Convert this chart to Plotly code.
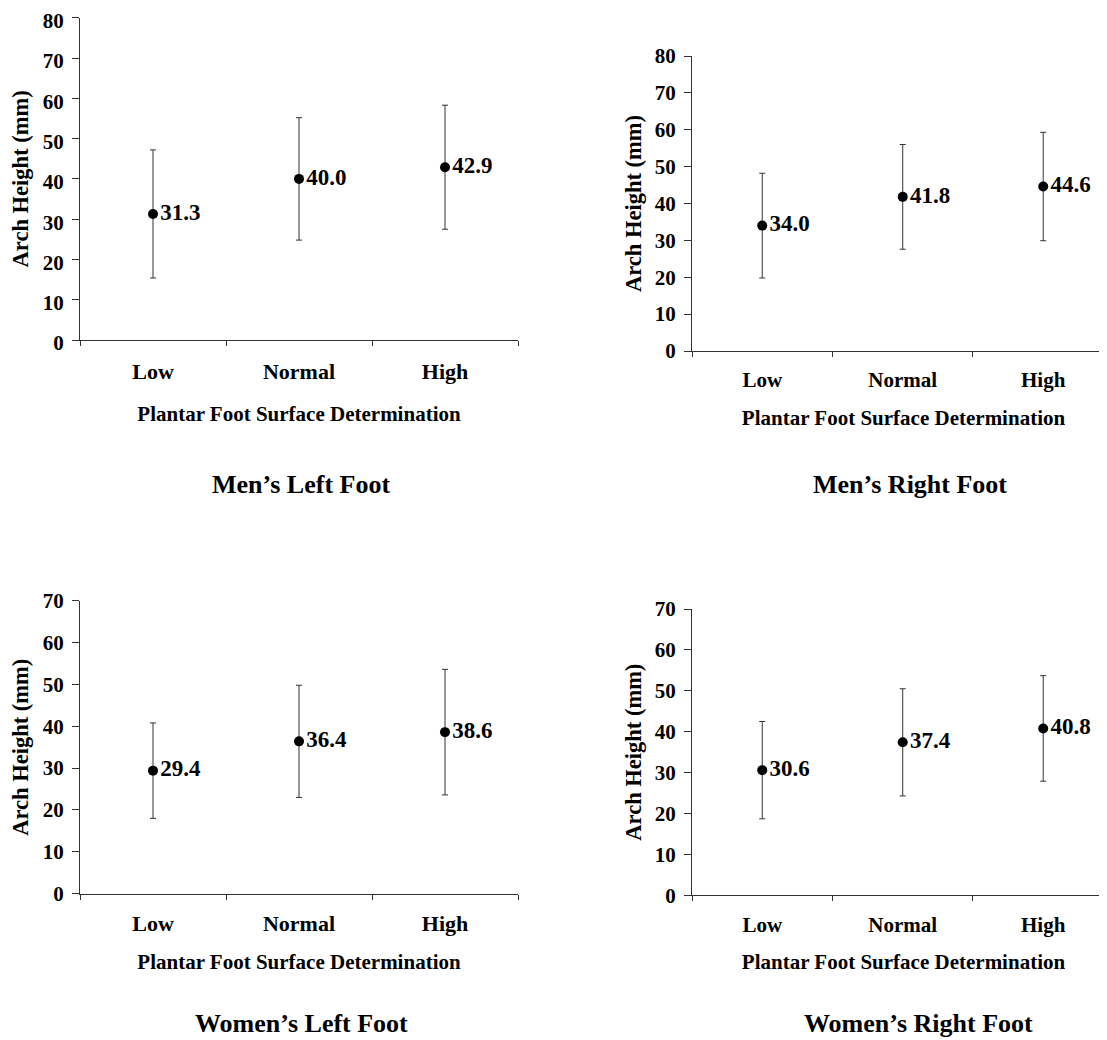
import plotly.graph_objects as go

# ---------------- data ----------------
categories = ["Low", "Normal", "High"]

men_left_mean = [31.3, 40.0, 42.9]
men_left_sd = [15.9, 15.2, 15.4]

men_right_mean = [34.0, 41.8, 44.6]
men_right_sd = [14.2, 14.2, 14.7]

women_left_mean = [29.4, 36.4, 38.6]
women_left_sd = [11.4, 13.4, 15.0]

women_right_mean = [30.6, 37.4, 40.8]
women_right_sd = [11.9, 13.1, 12.9]

panel_titles = ["Men\u2019s Left Foot", "Men\u2019s Right Foot",
                "Women\u2019s Left Foot", "Women\u2019s Right Foot"]
x_title = "Plantar Foot Surface Determination"
y_title = "Arch Height (mm)"

# ---------------- figure ----------------
W, H = 1107, 1040
OFF = 8  # page body margin
FONT = "Liberation Serif, Times New Roman, serif"
AXC = "#333333"

fig = go.Figure()

panels = [
    (men_left_mean, men_left_sd, "x", "y"),
    (men_right_mean, men_right_sd, "x2", "y2"),
    (women_left_mean, women_left_sd, "x3", "y3"),
    (women_right_mean, women_right_sd, "x4", "y4"),
]

for mean, sd, xa, ya in panels:
    fig.add_trace(go.Scatter(
        x=categories, y=mean, xaxis=xa, yaxis=ya,
        mode="markers+text",
        marker=dict(color="black", size=10),
        text=[f"{v:.1f}" for v in mean],
        textposition="middle right",
        textfont=dict(family=FONT, size=23, color="black", weight="bold"),
        error_y=dict(type="data", array=sd, visible=True,
                     color=AXC, thickness=1, width=3),
        showlegend=False, hoverinfo="skip",
    ))


def px_x(p):
    return (p - OFF) / W


def px_y(p):
    return 1 - (p - OFF) / H


# target screen pixel boxes: (left, right, top, bottom)
boxes = [
    (80, 518, 17.8, 340),
    (692, 1115, 56, 351),
    (80, 518, 600.7, 893.7),
    (692, 1115, 609, 895.3),
]
yranges = [[0, 80], [0, 80], [0, 70], [0, 70]]
xranges = [[-0.5, 2.5], [-0.5, 2.511], [-0.5, 2.5], [-0.5, 2.511]]
xtick_sizes = [22, 21, 22, 21]
xtick_standoff = [12, 10, 10, 10]
xtitle_standoff = [22, 19, 19, 18]
ytitle_standoff = [7, 6, 7, 6]
ytick_shift = [3, 0, 0, 0]
title_pos = [(301, 485), (910, 485), (301, 1023), (918, 1023)]

layout = dict(
    width=W, height=H,
    margin=dict(l=0, r=0, t=0, b=0, autoexpand=False),
    paper_bgcolor="white", plot_bgcolor="white",
    font=dict(family=FONT, color="black"),
    showlegend=False,
    annotations=[],
)

for i, (l, r, t, b) in enumerate(boxes):
    sx = "" if i == 0 else str(i + 1)
    layout["xaxis" + sx] = dict(
        domain=[max(px_x(l), 0), min(px_x(r), 1)],
        anchor="y" + sx,
        type="category",
        range=xranges[i],
        automargin=False,
        showline=True, linecolor=AXC, linewidth=1,
        ticks="outside", ticklen=5, tickcolor=AXC, tickwidth=1,
        tickson="boundaries",
        showgrid=False, zeroline=False,
        tickfont=dict(family=FONT, size=xtick_sizes[i], color="black", weight="bold"),
        ticklabelstandoff=xtick_standoff[i],
        ticklabeloverflow="allow",
        title=dict(text=x_title, standoff=xtitle_standoff[i],
                   font=dict(family=FONT, size=21, color="black", weight="bold")),
        fixedrange=True,
    )
    layout["yaxis" + sx] = dict(
        domain=[px_y(b), px_y(t)],
        anchor="x" + sx,
        range=yranges[i],
        dtick=10,
        automargin=False,
        showline=True, linecolor=AXC, linewidth=1,
        ticks="outside", ticklen=7, tickcolor=AXC, tickwidth=1,
        showgrid=False, zeroline=False,
        tickfont=dict(family=FONT, size=21, color="black", weight="bold"),
        ticklabelstandoff=4,
        ticklabelshift=ytick_shift[i],
        ticklabeloverflow="allow",
        title=dict(text=y_title, standoff=ytitle_standoff[i],
                   font=dict(family=FONT, size=22.5, color="black", weight="bold")),
        fixedrange=True,
    )
    tx, ty = title_pos[i]
    layout["annotations"].append(dict(
        text=panel_titles[i], xref="paper", yref="paper",
        x=px_x(tx), y=px_y(ty), xanchor="center", yanchor="middle",
        showarrow=False,
        font=dict(family=FONT, size=26, color="black", weight="bold"),
    ))

fig.update_layout(**layout)
fig.write_html("out.html")
